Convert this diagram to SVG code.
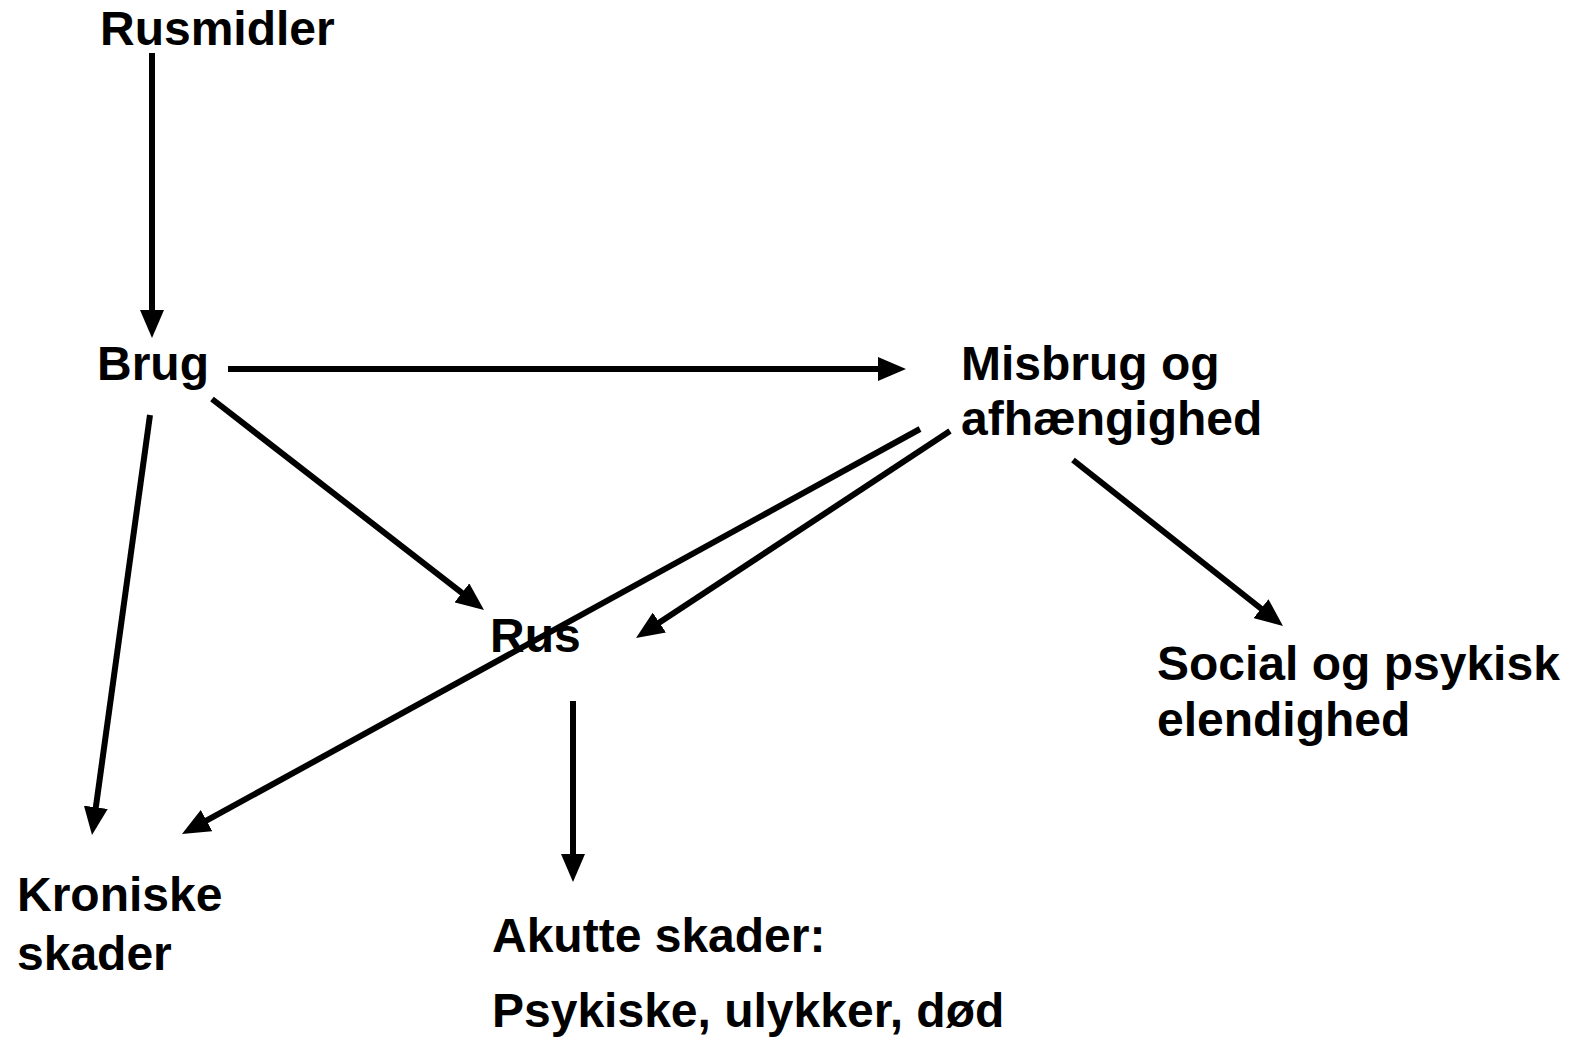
<svg xmlns="http://www.w3.org/2000/svg" width="1570" height="1050" viewBox="0 0 1570 1050">
  <style>
    .lbl { font-family: "Liberation Sans", Arial, sans-serif; font-weight: bold; font-size: 48px; fill: #000; }
    .edge { stroke: #000; stroke-width: 6; fill: none; marker-end: url(#head); }
  </style>
  <defs>
    <marker id="head" markerUnits="userSpaceOnUse" markerWidth="28" markerHeight="24" refX="20" refY="12" orient="auto">
      <path d="M0,0 L28,12 L0,24 z" fill="#000"/>
    </marker>
  </defs>
  <rect width="1570" height="1050" fill="#fff"/>

  <g id="connectors">
    <line class="edge" x1="152" y1="53" x2="152" y2="330"/>
    <line class="edge" x1="228" y1="369" x2="898" y2="369"/>
    <line class="edge" x1="212" y1="399" x2="477.7" y2="605.1"/>
    <line class="edge" x1="150" y1="415" x2="93.1" y2="827.1"/>
    <line class="edge" x1="920" y1="429" x2="189" y2="830.2"/>
    <line class="edge" x1="950" y1="431" x2="642.7" y2="633.6"/>
    <line class="edge" x1="573" y1="701" x2="573" y2="874"/>
    <line class="edge" x1="1073" y1="460" x2="1276.7" y2="621"/>
  </g>

  <g id="rusmidler"><text class="lbl" x="100" y="45">Rusmidler</text></g>
  <g id="brug"><text class="lbl" x="97" y="380">Brug</text></g>
  <g id="misbrug">
    <text class="lbl" x="961" y="380">Misbrug og</text>
    <text class="lbl" x="961" y="435">afhængighed</text>
  </g>
  <g id="rus"><text class="lbl" x="490" y="652">Rus</text></g>
  <g id="social">
    <text class="lbl" x="1157" y="680">Social og psykisk</text>
    <text class="lbl" x="1157" y="736">elendighed</text>
  </g>
  <g id="kroniske">
    <text class="lbl" x="17" y="911">Kroniske</text>
    <text class="lbl" x="17" y="970">skader</text>
  </g>
  <g id="akutte">
    <text class="lbl" x="492" y="952">Akutte skader:</text>
    <text class="lbl" x="492" y="1027">Psykiske, ulykker, død</text>
  </g>
</svg>
